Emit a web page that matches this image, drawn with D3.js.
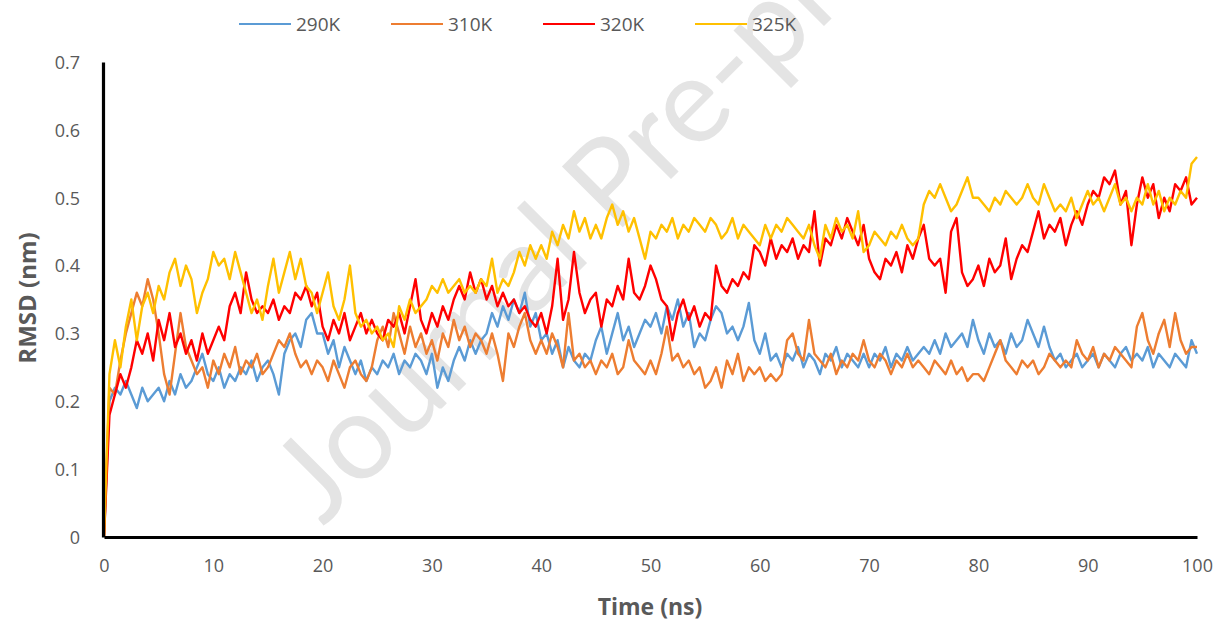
<!DOCTYPE html>
<html>
<head>
<meta charset="utf-8">
<script src="https://cdn.jsdelivr.net/npm/d3@7"></script>
<style>
  html, body { margin: 0; padding: 0; background: #fff; }
  svg { display: block; font-family: "Open Sans", "Noto Sans", sans-serif; }
</style>
</head>
<body>
<svg id="chart" width="1219" height="622"></svg>
<script>
// RMSD of the protein backbone at four temperatures, sampled every 0.5 ns over 100 ns
const seriesNames = ["290K", "310K", "320K", "325K"];
const seriesColors = ["#5B9BD5", "#ED7D31", "#FF0000", "#FFC000"];
const timeStep = 0.5;
const xTicks = [0, 10, 20, 30, 40, 50, 60, 70, 80, 90, 100];
const yTicks = [0, 0.1, 0.2, 0.3, 0.4, 0.5, 0.6, 0.7];

const rmsd290 = [
  0, 0.20, 0.22, 0.21, 0.23, 0.21, 0.19, 0.22, 0.20, 0.21,
  0.22, 0.20, 0.23, 0.21, 0.24, 0.22, 0.23, 0.25, 0.27, 0.24,
  0.23, 0.25, 0.22, 0.24, 0.23, 0.25, 0.24, 0.26, 0.23, 0.25,
  0.26, 0.24, 0.21, 0.27, 0.29, 0.30, 0.28, 0.32, 0.33, 0.30,
  0.30, 0.27, 0.29, 0.25, 0.28, 0.26, 0.24, 0.26, 0.23, 0.25,
  0.24, 0.26, 0.25, 0.27, 0.24, 0.26, 0.25, 0.27, 0.26, 0.24,
  0.27, 0.22, 0.25, 0.23, 0.26, 0.28, 0.26, 0.29, 0.27, 0.29,
  0.30, 0.33, 0.31, 0.34, 0.32, 0.35, 0.33, 0.36, 0.31, 0.33,
  0.29, 0.30, 0.27, 0.29, 0.25, 0.28, 0.26, 0.25, 0.27, 0.26,
  0.29, 0.31, 0.27, 0.30, 0.33, 0.29, 0.31, 0.28, 0.30, 0.32,
  0.31, 0.33, 0.30, 0.34, 0.32, 0.35, 0.31, 0.33, 0.28, 0.30,
  0.29, 0.32, 0.34, 0.33, 0.30, 0.31, 0.29, 0.31, 0.345, 0.29,
  0.27, 0.30, 0.26, 0.27, 0.25, 0.27, 0.26, 0.28, 0.25, 0.27,
  0.26, 0.24, 0.27, 0.26, 0.28, 0.25, 0.27, 0.26, 0.25, 0.27,
  0.25, 0.27, 0.26, 0.28, 0.25, 0.27, 0.26, 0.28, 0.26, 0.27,
  0.28, 0.27, 0.29, 0.27, 0.30, 0.28, 0.29, 0.30, 0.28, 0.32,
  0.29, 0.27, 0.30, 0.28, 0.29, 0.27, 0.30, 0.28, 0.29, 0.32,
  0.30, 0.28, 0.31, 0.28, 0.26, 0.27, 0.25, 0.26, 0.27, 0.25,
  0.26, 0.27, 0.25, 0.27, 0.26, 0.25, 0.27, 0.28, 0.26, 0.27,
  0.26, 0.28, 0.25, 0.27, 0.26, 0.25, 0.27, 0.26, 0.25, 0.29,
  0.27
];

const rmsd310 = [
  0, 0.22, 0.21, 0.26, 0.30, 0.33, 0.36, 0.34, 0.38, 0.35,
  0.30, 0.24, 0.21, 0.27, 0.33, 0.28, 0.26, 0.24, 0.25, 0.22,
  0.26, 0.24, 0.27, 0.25, 0.28, 0.24, 0.26, 0.25, 0.27, 0.24,
  0.25, 0.27, 0.29, 0.28, 0.30, 0.27, 0.25, 0.26, 0.24, 0.26,
  0.25, 0.23, 0.26, 0.24, 0.22, 0.25, 0.26, 0.24, 0.23, 0.25,
  0.29, 0.31, 0.28, 0.33, 0.30, 0.27, 0.31, 0.28, 0.30, 0.27,
  0.29, 0.26, 0.30, 0.28, 0.32, 0.29, 0.31, 0.28, 0.30, 0.29,
  0.27, 0.30, 0.27, 0.23, 0.30, 0.28, 0.31, 0.33, 0.29, 0.27,
  0.29, 0.27, 0.30, 0.28, 0.25, 0.33, 0.26, 0.27, 0.25, 0.26,
  0.24, 0.26, 0.25, 0.27, 0.24, 0.25, 0.29, 0.26, 0.25, 0.24,
  0.26, 0.24, 0.27, 0.31, 0.26, 0.27, 0.25, 0.26, 0.24, 0.25,
  0.22, 0.23, 0.25, 0.22, 0.26, 0.24, 0.27, 0.23, 0.25, 0.24,
  0.25, 0.23, 0.24, 0.23, 0.24, 0.29, 0.30, 0.27, 0.26, 0.32,
  0.27, 0.26, 0.25, 0.27, 0.24, 0.26, 0.25, 0.27, 0.26, 0.29,
  0.26, 0.25, 0.27, 0.26, 0.24, 0.26, 0.25, 0.27, 0.25, 0.26,
  0.25, 0.24, 0.26, 0.25, 0.24, 0.26, 0.24, 0.25, 0.23, 0.24,
  0.24, 0.23, 0.25, 0.27, 0.29, 0.26, 0.25, 0.24, 0.26, 0.25,
  0.26, 0.24, 0.25, 0.27, 0.26, 0.25, 0.26, 0.25, 0.29, 0.27,
  0.26, 0.28, 0.25, 0.27, 0.26, 0.28, 0.27, 0.26, 0.25, 0.31,
  0.33, 0.29, 0.27, 0.30, 0.32, 0.28, 0.33, 0.29, 0.27, 0.28,
  0.28
];

const rmsd320 = [
  0, 0.18, 0.21, 0.24, 0.22, 0.25, 0.29, 0.27, 0.30, 0.26,
  0.32, 0.29, 0.33, 0.28, 0.30, 0.27, 0.29, 0.26, 0.30, 0.27,
  0.29, 0.31, 0.29, 0.34, 0.36, 0.33, 0.39, 0.35, 0.33, 0.34,
  0.33, 0.35, 0.32, 0.34, 0.33, 0.36, 0.35, 0.37, 0.34, 0.36,
  0.31, 0.29, 0.32, 0.30, 0.33, 0.29, 0.31, 0.33, 0.30, 0.32,
  0.30, 0.29, 0.32, 0.31, 0.33, 0.30, 0.34, 0.38, 0.32, 0.30,
  0.33, 0.31, 0.34, 0.32, 0.35, 0.37, 0.35, 0.39, 0.36, 0.38,
  0.35, 0.37, 0.34, 0.36, 0.34, 0.35, 0.33, 0.34, 0.32, 0.31,
  0.33, 0.30, 0.34, 0.41, 0.32, 0.35, 0.42, 0.36, 0.33, 0.35,
  0.36, 0.31, 0.35, 0.34, 0.37, 0.35, 0.41, 0.36, 0.35, 0.37,
  0.40, 0.38, 0.35, 0.34, 0.29, 0.33, 0.35, 0.32, 0.34, 0.31,
  0.33, 0.32, 0.40, 0.37, 0.36, 0.38, 0.37, 0.39, 0.38, 0.43,
  0.42, 0.40, 0.44, 0.41, 0.43, 0.42, 0.44, 0.41, 0.43, 0.42,
  0.48, 0.40, 0.44, 0.43, 0.46, 0.44, 0.47, 0.45, 0.43, 0.46,
  0.41, 0.39, 0.38, 0.41, 0.40, 0.42, 0.39, 0.43, 0.41, 0.44,
  0.46, 0.41, 0.40, 0.41, 0.36, 0.45, 0.47, 0.39, 0.37, 0.38,
  0.40, 0.37, 0.41, 0.39, 0.40, 0.44, 0.38, 0.41, 0.43, 0.42,
  0.45, 0.48, 0.44, 0.46, 0.45, 0.47, 0.43, 0.46, 0.48, 0.46,
  0.49, 0.51, 0.50, 0.53, 0.52, 0.54, 0.49, 0.51, 0.43, 0.49,
  0.53, 0.50, 0.52, 0.47, 0.50, 0.48, 0.52, 0.51, 0.53, 0.49,
  0.50
];

const rmsd325 = [
  0, 0.24, 0.29, 0.25, 0.31, 0.35, 0.29, 0.34, 0.36, 0.33,
  0.37, 0.35, 0.39, 0.41, 0.37, 0.40, 0.38, 0.33, 0.36, 0.38,
  0.42, 0.40, 0.41, 0.38, 0.42, 0.39, 0.36, 0.33, 0.35, 0.32,
  0.37, 0.41, 0.36, 0.39, 0.42, 0.38, 0.41, 0.37, 0.36, 0.33,
  0.36, 0.39, 0.34, 0.32, 0.35, 0.40, 0.33, 0.31, 0.32, 0.30,
  0.31, 0.29, 0.30, 0.28, 0.34, 0.32, 0.35, 0.33, 0.34, 0.35,
  0.37, 0.36, 0.38, 0.36, 0.37, 0.38, 0.36, 0.37, 0.36, 0.38,
  0.37, 0.41, 0.36, 0.38, 0.37, 0.39, 0.42, 0.40, 0.43, 0.41,
  0.43, 0.41, 0.45, 0.43, 0.46, 0.44, 0.48, 0.45, 0.47, 0.44,
  0.46, 0.44, 0.47, 0.49, 0.46, 0.48, 0.45, 0.47, 0.44, 0.41,
  0.45, 0.44, 0.46, 0.45, 0.47, 0.44, 0.46, 0.45, 0.47, 0.46,
  0.45, 0.47, 0.46, 0.44, 0.45, 0.47, 0.44, 0.46, 0.45, 0.44,
  0.43, 0.46, 0.44, 0.46, 0.45, 0.47, 0.46, 0.45, 0.44, 0.46,
  0.43, 0.41, 0.46, 0.44, 0.47, 0.45, 0.46, 0.44, 0.48, 0.42,
  0.43, 0.45, 0.44, 0.43, 0.45, 0.44, 0.46, 0.44, 0.43, 0.44,
  0.49, 0.51, 0.50, 0.52, 0.50, 0.48, 0.49, 0.51, 0.53, 0.50,
  0.50, 0.49, 0.48, 0.50, 0.49, 0.51, 0.50, 0.49, 0.50, 0.52,
  0.50, 0.49, 0.52, 0.50, 0.48, 0.49, 0.48, 0.50, 0.47, 0.49,
  0.51, 0.49, 0.50, 0.48, 0.50, 0.52, 0.49, 0.50, 0.48, 0.50,
  0.49, 0.52, 0.49, 0.51, 0.48, 0.50, 0.49, 0.51, 0.50, 0.55,
  0.56
];

const seriesValues = [rmsd290, rmsd310, rmsd320, rmsd325];

const svg = d3.select("#chart");
const plot = { left: 104, right: 1197, top: 62, bottom: 537 };

const x = d3.scaleLinear().domain([0, 100]).range([plot.left, plot.right]);
const y = d3.scaleLinear().domain([0, 0.7]).range([plot.bottom, plot.top]);

// Watermark behind the data
svg.append("text")
  .attr("transform", "translate(323,527) rotate(-45)")
  .attr("font-family", "Lato, 'Open Sans', sans-serif")
  .attr("font-size", 120)
  .attr("font-weight", 400)
  .attr("fill", "#e4e4e4")
  .text("Journal Pre-proof");

// Lines
const line = d3.line()
  .x((d, i) => x(i * timeStep))
  .y(d => y(d));

seriesValues.forEach((vals, k) => {
  svg.append("path")
    .datum(vals)
    .attr("fill", "none")
    .attr("stroke", seriesColors[k])
    .attr("stroke-width", 2.4)
    .attr("stroke-linejoin", "round")
    .attr("d", line);
});

// Axes
const xAxis = d3.axisBottom(x).tickValues(xTicks).tickSize(0).tickSizeOuter(0).tickPadding(22)
  .tickFormat(d3.format("d"));
const yAxis = d3.axisLeft(y).tickValues(yTicks).tickSize(0).tickSizeOuter(0).tickPadding(23)
  .tickFormat(d => d === 0 ? "0" : d3.format(".1f")(d));

const gx = svg.append("g").attr("transform", `translate(0,${plot.bottom})`).call(xAxis);
const gy = svg.append("g").attr("transform", `translate(${plot.left - 1},0)`).call(yAxis);

[gx, gy].forEach(g => {
  g.select(".domain").attr("stroke", "#000").attr("stroke-width", 3.2);
  g.selectAll("text")
    .attr("fill", "#595959")
    .attr("font-size", 18)
    .attr("font-family", "'Open Sans', sans-serif");
});
gy.selectAll("text").attr("dy", "0.35em");

// Axis titles
svg.append("text")
  .attr("x", 650).attr("y", 615)
  .attr("text-anchor", "middle")
  .attr("font-size", 23).attr("font-weight", 700)
  .attr("fill", "#595959")
  .text("Time (ns)");

svg.append("text")
  .attr("transform", "translate(36,298) rotate(-90)")
  .attr("text-anchor", "middle")
  .attr("font-size", 24).attr("font-weight", 700)
  .attr("fill", "#595959")
  .text("RMSD (nm)");

// Legend
const legendX = [239, 391, 543, 695];
const legend = svg.append("g");
seriesNames.forEach((name, k) => {
  legend.append("line")
    .attr("x1", legendX[k]).attr("x2", legendX[k] + 52)
    .attr("y1", 24).attr("y2", 24)
    .attr("stroke", seriesColors[k]).attr("stroke-width", 2.2);
  legend.append("text")
    .attr("x", legendX[k] + 57).attr("y", 24).attr("dy", "0.35em")
    .attr("font-size", 19).attr("fill", "#595959")
    .text(name);
});
</script>
</body>
</html>
